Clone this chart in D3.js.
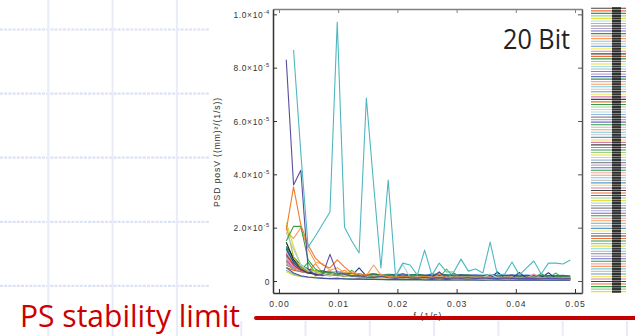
<!DOCTYPE html>
<html><head><meta charset="utf-8">
<script src="https://cdn.jsdelivr.net/npm/d3@7"></script>
<style>body{margin:0;background:#fff;overflow:hidden}svg{display:block}</style>
</head><body>
<svg id="c" width="635" height="336"></svg>
<script>
// ---------------- DATA ----------------
const UNIT = 1e-6; // series values are given in units of 1e-6 (mm)^2/(1/s)
const freqs = [0.00123,0.00246,0.00369,0.00492,0.00615,0.00738,0.00861,0.00984,0.01107,0.0123,
  0.01353,0.01476,0.01599,0.01722,0.01845,0.01968,0.02091,0.02214,0.02337,0.0246,
  0.02583,0.02706,0.02829,0.02952,0.03075,0.03198,0.03321,0.03444,0.03567,0.0369,
  0.03813,0.03936,0.04059,0.04182,0.04305,0.04428,0.04551,0.04674,0.04797,0.0492];

const xTicks = [0, 0.01, 0.02, 0.03, 0.04, 0.05];
const xTickLabels = ["0.00","0.01","0.02","0.03","0.04","0.05"];
const yTicks = [0, 2e-5, 4e-5, 6e-5, 8e-5, 1e-4];
const yTickLabels = ["0","2.0×10^-5","4.0×10^-5","6.0×10^-5","8.0×10^-5","1.0×10^-4"];

const psdTeal   = [null,86.6,48,12.7,16.9,21.4,25.9,97.1,20.2,15,10.5,68.6,36,4.9,37.9,1.9,6.7,6,2.2,11.6,2.2,6.7,3.4,3.4,8.2,3.7,4.5,3.0,14.6,2.2,2.6,7.1,2.2,4.9,7.5,2.6,6.7,6.7,6.4,7.9];
const psdPurple = [83,36,41.5,4.5,2,2.5,10,3,2.5,1.8,2,1.5,1.3,1.7,1.2,1,1.4,1.2,1.1,1.3,1,1.2,0.9,1.1,1,1.2,0.9,1.1,1,0.9,1.1,1,0.8,1,0.9,0.8,1,0.9,0.8,0.9];
const psdOrange = [19,35.3,21,13.5,8.6,6,4.9,7.9,5.2,3,2,2.5,1.8,2.2,1.6,1.4,2,1.5,1.3,1.7,1.2,2.5,1.3,1.2,1.5,1.1,1.3,1.2,1.4,1,1.2,1.1,1.3,1,1.1,1.2,1,1.1,0.9,1];
const psdOrange2= [18.5,16,20,12,7,6.5,4,5,3,3.5,2.5,2,6,2.2,1.8,1.5,1.7,1.4,1.3,1.6,1.2,1.4,1.1,1.3,1.2,1.4,1.1,1.2,1.3,1.1,1,1.2,1,1.1,1.2,1,0.9,1,1.1,0.9];
const psdGreen  = [15,20.5,20.5,7.9,4.5,3,3.5,2.5,2.8,2,1.8,2.2,1.6,1.8,2.4,1.5,1.4,1.6,1.3,1.5,1.2,1.4,1.3,3,1.2,1.4,1.1,1.3,1.2,1,1.1,1.2,1,1.3,1.1,2.8,1,1.1,1,0.9];
const psdYellow = [22,13,6,4,3.5,3,2.5,3,2.2,2.5,1.8,1.6,2,1.5,1.4,1.3,1.6,1.2,1.4,1.1,1.3,1.2,1,1.2,1.1,1.3,1,1.1,1.2,1,1.1,0.9,1,1.1,1,0.9,1,0.9,1,0.8];
const psdOlive  = [21,9,5,3.5,4,2.5,2,2.4,1.8,1.6,2,1.5,1.4,1.3,1.2,1.4,1.1,1.3,1.2,1,1.1,1.2,1,1.1,1,0.9,1,1.1,0.9,1,0.9,1,0.8,0.9,1,0.8,0.9,0.8,0.9,0.8];
const psdLightTeal=[18,12,6,4,3,2.5,2,3.5,2,1.8,1.5,2,1.6,1.4,1.2,1.5,6.2,1.4,1.2,1.3,1.1,1.6,1.2,1.3,1.4,1.2,1.1,1.3,2.6,1.2,1.5,1.1,1.3,1.2,1.4,1.2,1.1,1.2,1,1.1];
const psdBlack  = [14.5,8,5,3.5,2.8,3,2.2,2.5,2,1.8,2.1,1.6,1.5,1.7,1.4,1.3,1.5,1.2,1.1,1.3,1.2,1.1,1,1.2,1.1,1,1.1,1.2,1,0.9,1,1.1,0.9,1,0.9,1,0.8,0.9,1,0.9];
const psdNavy   = [12,7,4.5,3,2.5,2.8,2,3.5,2.2,2,4.9,1.8,1.5,1.6,1.4,1.3,1.5,1.2,1.3,1.4,1.2,3.4,1.1,1.2,1.3,1,1.2,1.1,1,3.4,1.1,1,3.2,1.1,1,1.2,3.1,1,0.9,1];
const psdRed    = [10,6,4,3,2.5,2,3,2.2,1.8,2,1.6,1.5,1.7,1.4,1.3,1.5,1.2,1.4,1.1,1.3,1.2,1,1.1,1.2,1,1.1,1,0.9,1.1,1,0.9,1,0.9,1,0.8,0.9,1,0.8,0.9,0.8];
const psdPink   = [9,5.5,4,3.2,2.8,2.2,2.5,3.8,2,1.7,1.9,1.5,1.6,1.4,1.3,1.2,1.4,1.3,1.1,1.2,1.3,1.1,1,1.2,1.1,1,1.2,1,1.1,1,1,1.1,0.9,1,2.6,1,0.9,1,0.9,0.8];
const psdSky    = [11,8,5,4,3,2.6,2.2,2.4,2,1.8,1.6,1.7,1.5,1.4,1.6,1.3,1.2,1.3,1.1,1.2,1.1,1.3,1,1.1,1.2,1,1.1,1,0.9,1,1.1,0.9,1,0.9,1,0.9,0.8,0.9,0.8,0.9];
const psdLavender=[7,5,6,3.5,3,2.5,2.8,2,2.3,1.8,1.6,1.9,1.5,1.3,1.4,1.6,1.2,1.3,1.1,1.2,1,1.1,1.2,1,1.3,1.1,1,1.2,1,0.9,1.1,1,0.9,1,0.9,1.1,0.9,1,0.8,0.9];
const psdDkGreen= [13,9,6,4.5,3.6,3.8,3.2,2.9,3.1,2.7,2.5,2.3,2.6,2.2,2.1,2.3,2,2.2,2.4,2.1,2,2.2,2.3,1.9,2.1,2.2,1.9,2,2.2,1.9,2,2.1,1.8,2,1.9,1.8,2,1.8,1.9,1.8];
const psdGray   = [6,4.5,3.5,3,2.6,2.2,2,2.3,1.9,1.7,1.5,1.6,1.4,1.3,1.5,1.2,1.1,1.3,1.2,1,1.1,1.2,1,1.1,1,0.9,1,1.1,0.9,1,0.9,0.8,0.9,1,0.8,0.9,0.8,0.9,0.8,0.7];
const psdSalmon = [8.5,6,4.8,4,3.5,3.2,3.9,2.9,2.6,2.8,2.4,2.2,2.1,2.5,2,1.9,1.8,2.1,1.7,1.8,1.9,1.6,1.7,1.8,1.6,1.5,1.7,1.6,1.5,1.6,1.5,1.4,1.5,1.6,1.4,1.5,1.4,1.5,1.3,1.4];
const psdBlue   = [9.5,6.5,4.6,3.8,3.4,3,3.2,2.8,2.6,2.9,2.5,2.4,2.7,2.3,2.5,2.4,2.6,2.3,2.4,2.2,2.5,2.6,2.2,2.3,2.4,2.2,2.3,2.1,2.4,2,2.2,2.3,2,2.2,2,2.1,1.9,2,2.1,1.9];
const psdTeal2  = [12.5,7.5,5.5,4.4,3.8,3.3,2.9,3.1,2.7,2.4,2.6,2.2,2.1,2,2.3,1.9,2,1.8,1.7,1.9,1.8,1.6,1.7,1.8,1.6,1.7,1.5,1.6,1.5,1.7,1.5,1.4,1.5,1.6,1.4,1.5,1.4,1.3,1.4,1.3];
const psdMagenta= [7.5,5,4.8,3.2,2.7,2.3,2.6,2.4,2,1.8,2,1.6,1.5,1.4,1.6,1.3,2.8,1.2,1.3,1.1,1.2,1,1.1,1.2,1,1.1,1,1.3,1,0.9,1,0.9,1,0.8,0.9,1,0.8,0.9,0.8,0.9];
const psdLtGreen= [10.5,7,5.2,3.6,3.1,2.7,2.4,2.9,2.2,2,1.8,1.9,1.6,1.5,1.4,1.6,1.3,1.2,1.4,1.2,1.1,1.3,1.2,1,1.1,1.2,1,1.1,1,1.1,0.9,1,1.1,0.9,1,0.9,1,0.9,0.8,0.9];
const psdBrGreen= [8,6,4,7,3,2.5,3,2,2.2,4,1.8,1.5,1.7,1.4,1.6,1.3,1.2,1.5,1.3,1.2,1.4,1.1,4.5,1.3,1.1,1.2,1,1.4,1.1,3.2,1,1.2,1.1,1,1.2,1.1,1,3,1,0.9];
const psdOrange3= [6.5,5,4,3.5,6.5,3,2.5,3.2,4,2.2,2,2.4,1.8,1.6,1.5,2,1.4,1.8,1.3,1.5,2.9,1.3,1.2,1.4,1.2,1.1,1.3,1.2,1.1,1,1.2,1.1,1,1.2,1,1.1,1,0.9,1,0.9];
const psdIndigo = [5,3,2,1.5,1.2,1,0.9,1,0.8,0.7,0.8,0.6,0.7,0.6,0.5,0.6,0.5,0.5,0.6,0.4,0.5,0.4,0.5,0.4,0.4,0.5,0.4,0.3,0.4,0.4,0.3,0.4,0.3,0.3,0.4,0.3,0.3,0.3,0.3,0.3];
const psdMint   = [4,2.5,1.8,1.4,1.1,1.2,0.9,0.8,1,0.7,0.6,0.8,0.6,0.5,0.6,0.5,0.4,0.5,0.4,0.5,0.4,0.4,0.3,0.4,0.4,0.3,0.4,0.3,0.3,0.4,0.3,0.3,0.3,0.2,0.3,0.3,0.2,0.3,0.2,0.2];
const psdGold   = [3.5,2.2,1.6,1.3,1.5,1,0.9,1.1,0.8,0.7,0.8,0.7,0.6,0.7,0.5,0.6,0.5,0.6,0.5,0.4,0.5,0.4,0.5,0.4,0.4,0.3,0.4,0.4,0.3,0.3,0.4,0.3,0.3,0.3,0.2,0.3,0.3,0.2,0.3,0.2];
const psdRust   = [5,4,3.5,3,2.8,3,2.6,2.7,2.5,2.4,2.6,2.2,2.3,2.1,2.2,2,2.1,1.9,2,1.8,1.9,2.1,1.8,1.9,1.7,1.8,1.6,1.7,1.8,1.6,1.7,1.5,1.6,1.7,1.5,1.6,1.4,1.5,1.4,1.5];

// draw order: background bundle first, prominent traces last
const seriesNames  = ["rust","gold","mint","indigo","orange3","brgreen","ltgreen","magenta","teal2","blue","salmon","gray","dkgreen","lavender","sky","pink","red","navy","black","olive","yellow","lightteal","orange2","green","orange","purple","teal"];
const seriesColors = ["#e6550d","#ffd92f","#66c2a5","#4d4d9f","#fd8d3c","#2fbf4f","#8fcf6f","#b04aa0","#2a9d8f","#3b6fc4","#f4a582","#8c8c8c","#1b7837","#9e9ac8","#74add1","#e78ac3","#d7301f","#27408b","#1f1f1f","#b5b82a","#e5d62c","#9fd8dc","#f5a05a","#3a9e4a","#f07b2a","#5a4c9e","#4fb7bf"];
const seriesValues = [psdRust,psdGold,psdMint,psdIndigo,psdOrange3,psdBrGreen,psdLtGreen,psdMagenta,psdTeal2,psdBlue,psdSalmon,psdGray,psdDkGreen,psdLavender,psdSky,psdPink,psdRed,psdNavy,psdBlack,psdOlive,psdYellow,psdLightTeal,psdOrange2,psdGreen,psdOrange,psdPurple,psdTeal];

const legendCount = 113;
const legendPalette = ["#444444","#f26b38","#2e9e4f","#9ed28a","#e8e03a","#a8dce6","#9ab8dc","#8a8a8a","#b9a7d8","#6c6cc0","#24a148","#f4a6b0","#f9a05a","#7ec8e3","#c7c7c7","#5a9bd4","#f6e85a","#d47fb0"];

// ---------------- DRAW ----------------
const svg = d3.select("#c");
const W = 635, H = 336;

// slide background grid
const bg = svg.append("g");
for (let i = 0; i < 5; i++) {
  const yy = 29.5 + i * 64.1;
  bg.append("line").attr("x1", 0).attr("x2", 209).attr("y1", yy).attr("y2", yy)
    .attr("stroke", "#dde2f4").attr("stroke-width", 2.2).attr("stroke-dasharray", "3,1.2");
}
for (let i = 0; i < 10; i++) {
  const xx = 48.3 + i * 64.3;
  bg.append("line").attr("x1", xx).attr("x2", xx).attr("y1", 0).attr("y2", H)
    .attr("stroke", "#e8ecf8").attr("stroke-width", 2);
}
// white chart panel
svg.append("rect").attr("x", 209).attr("y", 0).attr("width", W - 209).attr("height", 321).attr("fill", "#fff");

const L = 273, R = 582, T = 9, B = 293;
const x = d3.scaleLinear().domain([-0.00101, 0.05118]).range([L, R]);
const y = d3.scaleLinear().domain([-0.45e-5, 1.02e-4]).range([B, T]);

svg.append("clipPath").attr("id", "clip").append("rect")
  .attr("x", L).attr("y", T).attr("width", R - L).attr("height", B - T);

const line = d3.line()
  .defined(d => d != null)
  .x((d, i) => x(freqs[i]))
  .y(d => y(d * UNIT));

const gLines = svg.append("g").attr("clip-path", "url(#clip)");
seriesValues.forEach((vals, si) => {
  gLines.append("path")
    .datum(vals)
    .attr("d", line)
    .attr("fill", "none")
    .attr("stroke", seriesColors[si])
    .attr("stroke-width", 1.1)
    .attr("stroke-linejoin", "round")
    .attr("data-name", seriesNames[si]);
});

const font = "'Liberation Sans', Arial, Helvetica, sans-serif";

function styleAxis(g, color) {
  g.select(".domain").attr("stroke", color).attr("stroke-width", 1.5);
  g.selectAll(".tick line").attr("stroke", color).attr("stroke-width", 1);
}

// bottom axis
const gx = svg.append("g").attr("transform", `translate(0,${B})`)
  .call(d3.axisBottom(x).tickValues(xTicks).tickSizeInner(-4).tickSizeOuter(0)
    .tickPadding(7.5).tickFormat((d, i) => xTickLabels[i]));
styleAxis(gx, "#333");
gx.selectAll("text").attr("font-family", font).attr("font-size", 8.6).attr("fill", "#333")
  .attr("letter-spacing", 0.9);

// top axis
const gt = svg.append("g").attr("transform", `translate(0,${T})`)
  .call(d3.axisTop(x).tickValues(xTicks).tickSizeInner(-4).tickSizeOuter(0).tickFormat(""));
styleAxis(gt, "#808080");

// left axis
const gy = svg.append("g").attr("transform", `translate(${L},0)`)
  .call(d3.axisLeft(y).tickValues(yTicks).tickSizeInner(-4).tickSizeOuter(0).tickFormat(""));
styleAxis(gy, "#333");
gy.selectAll(".tick").each(function (d, i) {
  const parts = yTickLabels[i].split("^");
  const t = d3.select(this).append("text")
    .attr("x", -3).attr("y", 3)
    .attr("text-anchor", "end")
    .attr("font-family", font).attr("font-size", 8.4).attr("fill", "#333")
    .attr("letter-spacing", 0.7);
  t.append("tspan").text(parts[0]);
  if (parts[1]) t.append("tspan").attr("dy", -4).attr("font-size", 5.8).text(parts[1]);
});

// right axis
const gr = svg.append("g").attr("transform", `translate(${R},0)`)
  .call(d3.axisRight(y).tickValues(yTicks).tickSizeInner(-4).tickSizeOuter(0).tickFormat(""));
styleAxis(gr, "#555");

// axis titles
svg.append("text")
  .attr("transform", "translate(220,152) rotate(-90)")
  .attr("text-anchor", "middle")
  .attr("font-family", font).attr("font-size", 8.6).attr("fill", "#333")
  .attr("letter-spacing", 0.9)
  .text("PSD  posV  ((mm)²/(1/s))");

svg.append("text")
  .attr("x", 428).attr("y", 318.5)
  .attr("text-anchor", "middle")
  .attr("font-family", font).attr("font-size", 8.6).attr("fill", "#333")
  .attr("letter-spacing", 1)
  .text("f  (1/s)");

// legend strip: one coloured sample line per trace, with its (illegible) dark label block
const gLeg = svg.append("g");
for (let i = 0; i < legendCount; i++) {
  const yy = 8.3 + i * 2.53;
  gLeg.append("line").attr("x1", 591).attr("x2", 626).attr("y1", yy).attr("y2", yy)
    .attr("stroke", legendPalette[i % legendPalette.length]).attr("stroke-width", 1.1);
}
for (let i = 0; i < legendCount; i++) {
  const yy = 8.3 + i * 2.53;
  gLeg.append("rect").attr("x", 612).attr("y", yy - 1.1).attr("width", 9).attr("height", 2.2)
    .attr("fill", "#232323").attr("opacity", 0.92);
}

// annotation "20 Bit"
svg.append("text")
  .attr("x", 503).attr("y", 49)
  .attr("font-family", "'Open Sans', 'Noto Sans', sans-serif").attr("font-size", 28)
  .attr("fill", "#222")
  .attr("textLength", 67).attr("lengthAdjust", "spacingAndGlyphs")
  .text("20 Bit");

// PS stability limit
svg.append("text")
  .attr("x", 20).attr("y", 327)
  .attr("font-family", "'Open Sans', 'Noto Sans', sans-serif").attr("font-size", 31)
  .attr("fill", "#cc0000")
  .attr("textLength", 220).attr("lengthAdjust", "spacingAndGlyphs")
  .text("PS stability limit");
svg.append("line").attr("x1", 256).attr("x2", 640).attr("y1", 318).attr("y2", 318)
  .attr("stroke", "#c40000").attr("stroke-width", 4).attr("stroke-linecap", "round");
</script>
</body></html>
